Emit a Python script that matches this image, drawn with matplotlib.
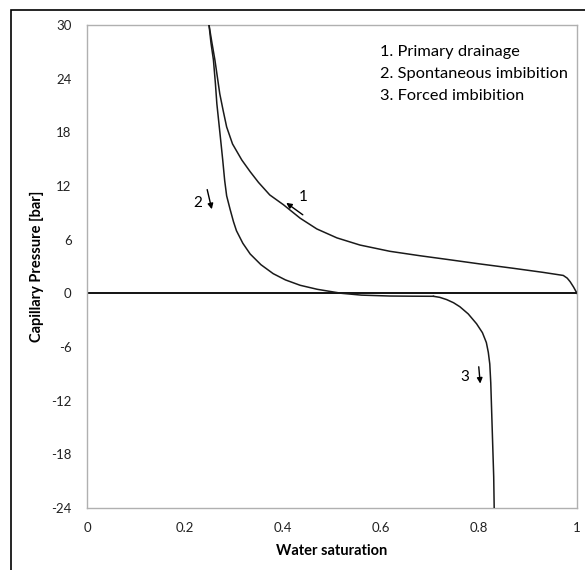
import matplotlib
matplotlib.use("Agg")
import matplotlib.pyplot as plt
from matplotlib.patches import Rectangle

plt.rcParams['font.family'] = ['Lato', 'DejaVu Sans']

# Primary drainage curve (water saturation, capillary pressure in bar)
drain_sw = [0.249, 0.255, 0.261, 0.266, 0.271, 0.278, 0.285, 0.297, 0.316, 0.333, 0.350,
            0.373, 0.401, 0.435, 0.469, 0.510, 0.557, 0.618, 0.680, 0.734, 0.800,
            0.870, 0.930, 0.972, 0.980, 0.986, 0.993, 1.000]
drain_pc = [30.0, 28.0, 26.1, 24.2, 22.3, 20.4, 18.6, 16.7, 14.9, 13.6, 12.4,
            11.0, 9.9, 8.4, 7.2, 6.2, 5.4, 4.7, 4.2, 3.8, 3.3,
            2.8, 2.35, 2.0, 1.7, 1.3, 0.7, 0.0]

# Spontaneous imbibition curve
spont_sw = [0.249, 0.253, 0.258, 0.262, 0.265, 0.270, 0.274, 0.277, 0.281, 0.285, 0.292,
            0.299, 0.305, 0.318, 0.333, 0.355, 0.380, 0.405, 0.435, 0.470, 0.503, 0.520,
            0.560, 0.618, 0.665, 0.707]
spont_pc = [30.0, 28.0, 26.1, 23.5, 21.2, 18.6, 16.5, 14.9, 12.6, 10.9, 9.4,
            8.0, 7.0, 5.6, 4.4, 3.2, 2.2, 1.5, 0.9, 0.45, 0.15, 0.0,
            -0.2, -0.3, -0.32, -0.33]

# Forced imbibition curve
forced_sw = [0.707, 0.720, 0.734, 0.748, 0.761, 0.778, 0.795, 0.807, 0.815, 0.819,
             0.822, 0.824, 0.826, 0.828, 0.830, 0.831]
forced_pc = [-0.33, -0.45, -0.7, -1.05, -1.5, -2.3, -3.4, -4.4, -5.5, -6.6,
             -7.9, -10.0, -13.5, -17.0, -20.5, -24.0]

x_ticks = [0, 0.2, 0.4, 0.6, 0.8, 1]
x_tick_labels = ["0", "0.2", "0.4", "0.6", "0.8", "1"]
y_ticks = [-24, -18, -12, -6, 0, 6, 12, 18, 24, 30]
y_tick_labels = ["-24", "-18", "-12", "-6", "0", "6", "12", "18", "24", "30"]

legend_lines = ["1. Primary drainage", "2. Spontaneous imbibition", "3. Forced imbibition"]

fig = plt.figure(figsize=(5.85, 5.7), dpi=100)
fig.patches.append(Rectangle((11 / 585, -0.1), 1.2, (570 - 10) / 570 + 0.1,
                             transform=fig.transFigure, fill=False,
                             edgecolor='black', linewidth=1.2))

ax = fig.add_axes([87 / 585, 62 / 570, 490 / 585, 483 / 570])
ax.set_xlim(0, 1)
ax.set_ylim(-24, 30)

for s in ax.spines.values():
    s.set_color('#b0b0b0')
    s.set_linewidth(1.0)

ax.axhline(0, color='black', linewidth=1.3, zorder=2)

line_kw = dict(color='#1a1a1a', linewidth=1.1, zorder=3, solid_joinstyle='round')
ax.plot(drain_sw, drain_pc, **line_kw)
ax.plot(spont_sw, spont_pc, **line_kw)
ax.plot(forced_sw, forced_pc, **line_kw)

ax.set_xticks(x_ticks)
ax.set_xticklabels(x_tick_labels)
ax.set_yticks(y_ticks)
ax.set_yticklabels(y_tick_labels)
ax.tick_params(length=0, labelsize=9.5, colors='#222222')
ax.tick_params(axis='y', pad=11)
ax.tick_params(axis='x', pad=10)

ax.set_xlabel("Water saturation", fontsize=10.5, fontweight='bold', labelpad=7)
ax.set_ylabel("Capillary Pressure [bar]", fontsize=10.5, fontweight='bold', labelpad=5)

# Direction arrows with curve numbers
arrow_kw = dict(arrowstyle='-|>', color='black', lw=1.0, mutation_scale=8)
ax.annotate("", xy=(0.256, 9.1), xytext=(0.244, 11.9), arrowprops=arrow_kw)
ax.text(0.227, 10.1, "2", fontsize=11, ha='center', va='center')
ax.annotate("", xy=(0.402, 10.3), xytext=(0.445, 8.6), arrowprops=arrow_kw)
ax.text(0.441, 10.8, "1", fontsize=11, ha='center', va='center')
ax.annotate("", xy=(0.803, -10.4), xytext=(0.799, -7.9), arrowprops=arrow_kw)
ax.text(0.771, -9.4, "3", fontsize=11, ha='center', va='center')

for i, line in enumerate(legend_lines):
    ax.text(0.598, 27.0 - i * 2.45, line, fontsize=11.8, ha='left', va='center')

fig.savefig("out.png", dpi=100)
